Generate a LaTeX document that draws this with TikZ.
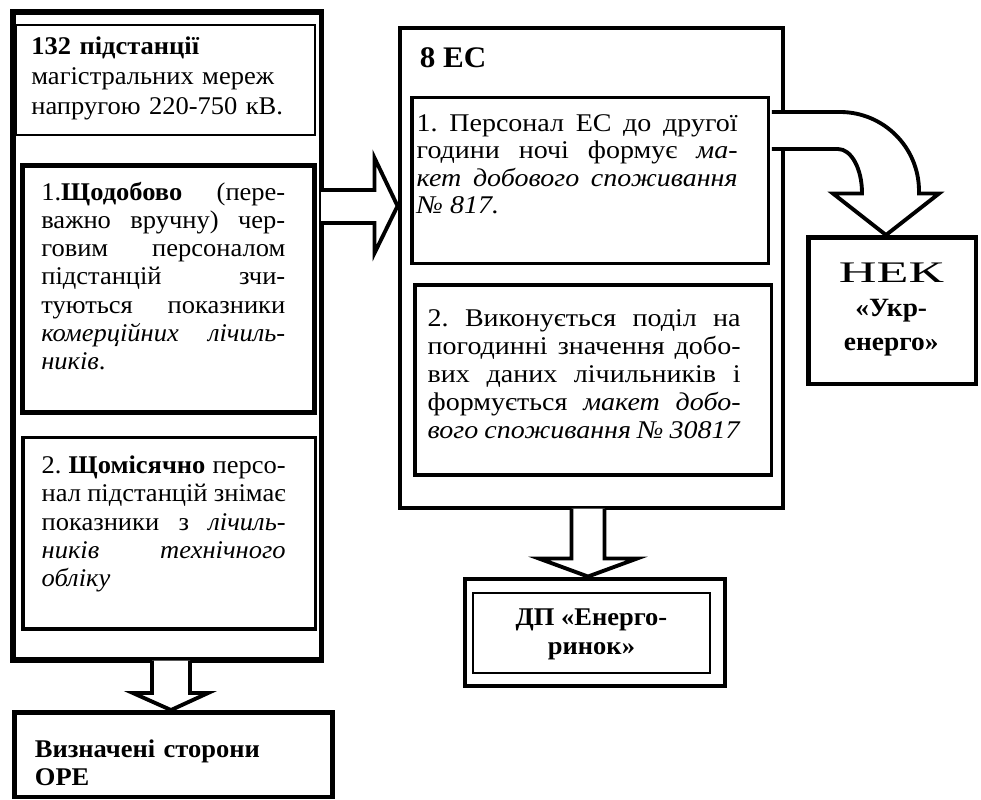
\documentclass[tikz,border=0pt]{standalone}
\usepackage{fontspec}
\setmainfont{Liberation Serif}[FakeStretch=1.04]
\newfontfamily\rightfont{Liberation Serif}[FakeStretch=1.10]
\newfontfamily\nekfont{Liberation Serif}[FakeStretch=1.75]
\usetikzlibrary{calc,fit,positioning}
\frenchspacing

\begin{document}
\begin{tikzpicture}[x=0.02cm,y=-0.02cm]
		\tikzset{
			frame/.style={draw,line width=3.2pt,inner sep=0pt},
			panel/.style={draw,line width=1.9pt,inner sep=0pt},
			thinpanel/.style={draw,line width=1.1pt,inner sep=0pt},
			textL/.style={inner sep=0pt,anchor=north west,text width=4.88cm,align=justify,font=\fontsize{14.5}{16.1}\selectfont},
			textR/.style={inner sep=0pt,anchor=north west,align=justify,font=\rightfont\fontsize{14.5}{15.5}\selectfont},
			blockarrow/.style={draw,fill=white,line width=2.2pt,line join=miter,miter limit=20}
		}
		\useasboundingbox (0,0) rectangle (981,800);
		%%%Left column: substations
		\node[frame,fit={(13,12)(321.5,660)}] (ps) {};
		\node[thinpanel,fit={(16.5,25)(315,135)}] (ps1) {};
		\node[panel,line width=2.3pt,fit={(22.5,165.5)(314.5,412.5)}] (ps2) {};
		\node[panel,fit={(23,437.5)(315.5,629)}] (ps3) {};
		\node[textL,text width=5.6cm,align=left,font=\fontsize{14.5}{17.1}\selectfont] (ps1t) at ([shift={(15.5,9)}]ps1.north west)
			{\strut\textbf{132 підстанції}\\магістральних мереж\\напругою 220-750 кВ.};
		\node[textL] (ps2t) at ([shift={(20.5,16.5)}]ps2.north west)
			{\strut 1.\textbf{Щодобово} (пере-\linebreak важно вручну) чер-\linebreak говим персоналом\linebreak підстанцій зчи-\linebreak туються показники\linebreak \textit{комерційних лічиль-}\linebreak \textit{ників}.};
		\node[textL] (ps3t) at ([shift={(20,17.5)}]ps3.north west)
			{\strut 2. \textbf{Щомісячно} персо-\linebreak нал підстанцій знімає\linebreak показники з \textit{лічиль-}\linebreak \textit{ників технічного}\linebreak \textit{обліку}};
		%%%Market participants
		\node[frame,line width=2.8pt,fit={(14.5,712.5)(332.5,797)}] (ore) {};
		\node[textL,text width=5.6cm,align=left,font=\bfseries\fontsize{14.5}{15.9}\selectfont] (oret) at ([shift={(22.5,28)}]ore.north west)
			{\strut Визначені сторони\\ОРЕ};
		%%%Right column: 8 EC
		\node[frame,line width=2.8pt,fit={(400,28)(783,508)}] (es) {};
		\node[inner sep=0pt,anchor=base west,font=\bfseries\fontsize{17}{19}\selectfont] (est) at ([shift={(22,42)}]es.north west) {8 ЕС};
		\node[panel,fit={(412,97.5)(768.5,263.5)}] (es1) {};
		\node[panel,fit={(415,285)(771.5,475)}] (es2) {};
		\node[textR,text width=6.42cm] (es1t) at ([shift={(6,16.5)}]es1.north west)
			{\strut 1. Персонал ЕС до другої\linebreak години ночі формує \textit{ма-}\linebreak \textit{кет добового споживання}\linebreak \textit{№ 817.}};
		\node[textR,text width=6.26cm,font=\rightfont\fontsize{14.5}{15.9}\selectfont] (es2t) at ([shift={(14,23.4)}]es2.north west)
			{\strut 2. Виконується поділ на\linebreak погодинні значення добо-\linebreak вих даних лічильників і\linebreak формується \textit{макет добо-}\linebreak \textit{вого споживання № 30817}};
		%%%Energorynok
		\node[frame,line width=2.8pt,fit={(465,579)(725,686)}] (dp) {};
		\node[thinpanel,fit={(473,593)(710,673)}] (dpin) {};
		\node[align=center,inner sep=0pt,font=\bfseries\fontsize{14.5}{16.5}\selectfont] (dpt) at ($(dpin.center)+(0,1)$) {ДП «Енерго-\\ринок»};
		%%%Ukrenergo
		\node[frame,line width=2.8pt,fit={(808.5,237.5)(976,384)}] (nek) {};
		\node[align=center,inner sep=0pt,font=\bfseries\fontsize{15}{19.5}\selectfont] (nekt) at ($(nek.center)+(-1,-1)$)
			{{\nekfont\mdseries\fontsize{17}{19.5}\selectfont НЕК}\\«Укр-\\енерго»};
		%%%Block arrows
		\coordinate (a1s) at ([xshift=-1.8pt]ps.east);
		\coordinate (t1) at (es.west |- 0,206);
		\draw[blockarrow] (a1s |- 0,190) -- ($(t1)+(-23,-16)$) -- ($(t1)+(-23,-48)$) -- (t1)
			-- ($(t1)+(-23,47)$) -- ($(t1)+(-23,17)$) -- (a1s |- 0,223);
		\coordinate (t2) at (ore.north -| 171,0);
		\draw[blockarrow] ($(t2)+(-19,-49.5)$) -- ($(t2)+(-19,-17)$) -- ($(t2)+(-38,-17)$) -- (t2)
			-- ($(t2)+(37,-17)$) -- ($(t2)+(19,-17)$) -- ($(t2)+(19,-49.5)$);
		\coordinate (t3) at (dp.north -| 588,0);
		\draw[blockarrow] ($(t3)+(-16.5,-68)$) -- ($(t3)+(-16.5,-18)$) -- ($(t3)+(-49,-18)$) -- (t3)
			-- ($(t3)+(49,-18)$) -- ($(t3)+(16.5,-18)$) -- ($(t3)+(16.5,-68)$);
		\coordinate (a4s) at ([xshift=1pt]es1.east);
		\coordinate (t4) at (nek.north -| 886,0);
		\draw[blockarrow] (a4s |- 0,112) -- (840,112) arc[start angle=-90,end angle=0,radius=79]
			-- ($(t4)+(33,-41.5)$) -- ($(t4)+(53,-41.5)$) -- (t4) -- ($(t4)+(-53,-41.5)$) -- ($(t4)+(-24,-41.5)$)
			-- (862,193) arc[start angle=0,end angle=-90,x radius=24,y radius=44] -- (a4s |- 0,149);
	\end{tikzpicture}
\end{document}
